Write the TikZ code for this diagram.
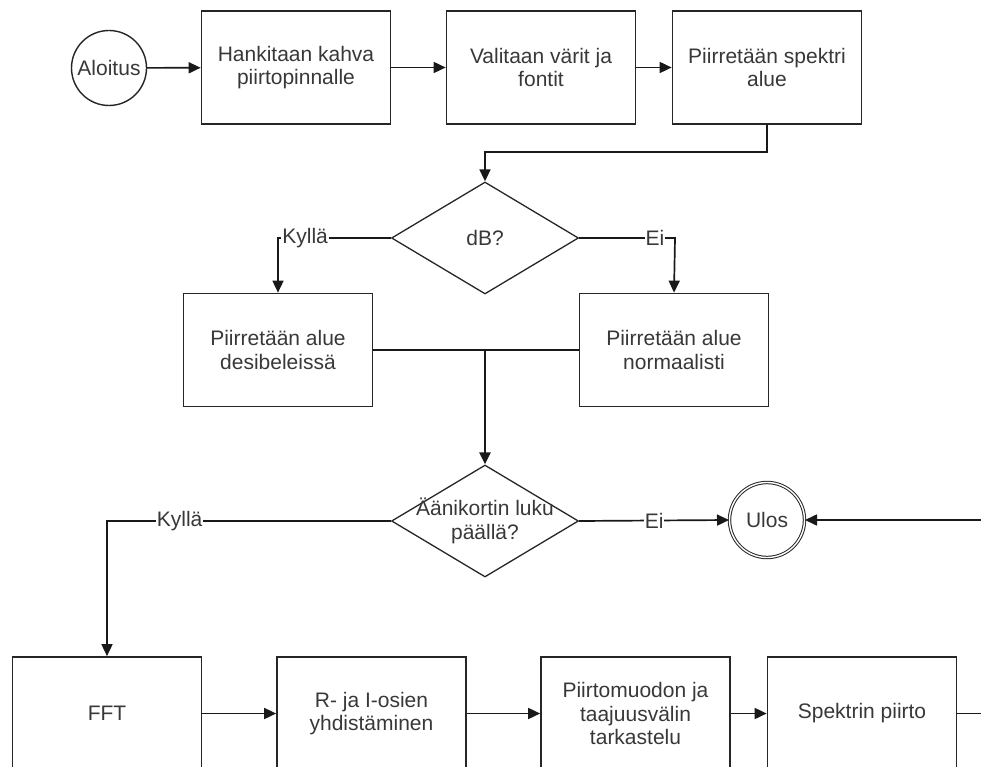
\documentclass[tikz,border=0pt]{standalone}
\usepackage{fontspec}
\setmainfont{Liberation Sans}
\usetikzlibrary{shapes.geometric,arrows.meta}
\begin{document}
\begin{tikzpicture}[x=1pt,y=-1pt,
  every node/.style={font=\fontsize{21}{23.5}\selectfont, text=black!78, align=center},
  box/.style={draw=black!85, line width=1.7pt, minimum width=189pt, minimum height=113pt, inner sep=0pt},
  dia/.style={draw=black!85, diamond, line width=1.3pt, minimum width=187pt, minimum height=112pt, inner sep=0pt},
  term/.style={draw=black!85, circle, line width=1.4pt, minimum size=75pt, inner sep=0pt},
  lbl/.style={fill=white, inner sep=1pt},
  ln/.style={draw=black!90, line width=1.7pt},
  arr/.style={ln, -{Triangle[length=12pt,width=11pt]}}]
\useasboundingbox (0,0) rectangle (981,767);
\clip (0,0) rectangle (981,767);

% top row
\node[term] (start) at (109,68) {Aloitus};
\node[box] (b1) at (296,67.5) {Hankitaan kahva\\piirtopinnalle};
\node[box] (b2) at (541,67.5) {Valitaan värit ja\\fontit};
\node[box] (b3) at (767,67.5) {Piirretään spektri\\alue};

% dB decision
\node[dia] (d1) at (485,238) {dB?};
\node[box] (bl) at (278,350) {Piirretään alue\\desibeleissä};
\node[box] (br) at (674,350) {Piirretään alue\\normaalisti};

% sound card decision
\node[dia] (d2) at (485,521) {};
\node (d2t) at (d2.center) {Äänikortin luku\\päällä?};
\node[term, double, line width=1pt, double distance=1.4pt] (ulos) at (767,520) {Ulos};
\coordinate (rin) at (981,520);

% bottom row
\node[box] (fft) at (107,713.5) {FFT};
\node[box] (ri) at (371.5,713.5) {R- ja I-osien\\yhdistäminen};
\node[box] (pm) at (635.5,713.5) {Piirtomuodon ja\\taajuusvälin\\tarkastelu};
\node[box] (sp) at (862,713.5) {Spektrin piirto};
\coordinate (rout) at (981,713.5);

% connectors
\draw[arr] (start) -- (b1);
\draw[arr] (b1) -- (b2);
\draw[arr] (b2) -- (b3);
\draw[arr] (b3.south) -- (767,152) -- (485,152) -- (d1.north);

\draw[arr] (d1.west) -- node[lbl,pos=0.76]{Kyllä} (278,238) -- (bl.north);
\draw[arr] (d1.east) -- node[lbl,pos=0.79]{Ei} (675,238) -- (br.north);

\draw[ln] (bl.east) -- (br.west);
\coordinate (m) at (485,350);
\draw[arr, line width=2.6pt] (m) -- (d2.north);

\draw[arr] (d2.west) -- node[lbl,pos=0.744]{Kyllä} (107,521) -- (fft.north);
\draw[arr] (d2.east) -- node[lbl,pos=0.5]{Ei} (ulos.west);
\draw[arr] (rin) -- (ulos.east);

\draw[arr] (fft) -- (ri);
\draw[arr] (ri) -- (pm);
\draw[arr] (pm) -- (sp);
\draw[ln] (sp.east) -- (rout);
\end{tikzpicture}
\end{document}
